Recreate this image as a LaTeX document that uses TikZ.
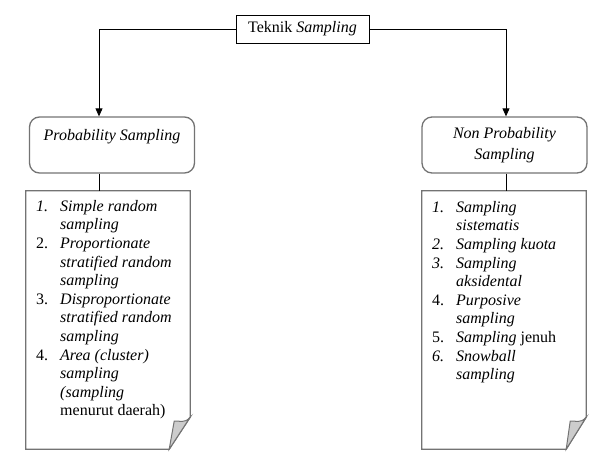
\documentclass[tikz,border=0pt]{standalone}
\usepackage{fontspec}
\setmainfont{Liberation Serif}
\usetikzlibrary{arrows.meta}

\begin{document}
\begin{tikzpicture}[x=1pt,y=-1pt,
   judul/.style={draw=black,line width=0.8pt,minimum width=133pt,minimum height=28pt,inner sep=0pt,font=\fontsize{16}{21}\selectfont},
   kotak/.style={draw=black!55,line width=1.3pt,rounded corners=10pt,minimum width=165pt,minimum height=56pt,inner sep=0pt,align=center,font=\fontsize{16}{21}\selectfont},
   kertas/.style={minimum width=164pt,minimum height=258pt,inner sep=0pt},
   isi/.style={anchor=north west,inner sep=0pt,font=\fontsize{16}{18.6}\selectfont},
   garis/.style={line width=0.8pt},
   panah/.style={garis,-{Triangle[width=7pt,length=8pt]}},
   tepi/.style={draw=black!55,line width=1.3pt,fill=white},
   lipat/.style={draw=black!55,line width=1pt,fill=black!20}]
   \useasboundingbox (0,0) rectangle (599,458);

   %% Kotak
   \node[judul] (teknik) at (302.5,29) {Teknik \textit{Sampling}};
   \node[kotak] (prob) at (112,145) {\textit{Probability Sampling}\\~};
   \node[kotak] (nonprob) at (504.5,145) {\textit{Non Probability}\\\textit{Sampling}};
   \node[kertas] (problist) at (108,320) {};
   \node[kertas] (nonlist) at (504,320) {};

   %% Kertas
   \draw[tepi] (problist.north west) -- (problist.north east) -- ([yshift=32pt]problist.south east)
      -- ([xshift=-21pt]problist.south east) -- (problist.south west) -- cycle;
   \draw[lipat] ([yshift=32pt]problist.south east) .. controls ([xshift=-6pt,yshift=25pt]problist.south east)
      and ([xshift=-11pt,yshift=29pt]problist.south east) .. ([xshift=-16pt,yshift=28pt]problist.south east)
      -- ([xshift=-21pt]problist.south east) -- cycle;
   \draw[tepi] (nonlist.north west) -- (nonlist.north east) -- ([yshift=32pt]nonlist.south east)
      -- ([xshift=-20pt]nonlist.south east) -- (nonlist.south west) -- cycle;
   \draw[lipat] ([yshift=32pt]nonlist.south east) .. controls ([xshift=-6pt,yshift=25pt]nonlist.south east)
      and ([xshift=-11pt,yshift=29pt]nonlist.south east) .. ([xshift=-16pt,yshift=28pt]nonlist.south east)
      -- ([xshift=-20pt]nonlist.south east) -- cycle;

   %% Isi
   \node[isi] (probisi) at (36,198) {\begin{tabular}{@{}p{24pt}@{}l@{}}
      \textit{1.} & \textit{Simple random}\\
         & \textit{sampling}\\
      2. & \textit{Proportionate}\\
         & \textit{stratified random}\\
         & \textit{sampling}\\
      3. & \textit{Disproportionate}\\
         & \textit{stratified random}\\
         & \textit{sampling}\\
      4. & \textit{Area (cluster)}\\
         & \textit{sampling}\\
         & \textit{(sampling}\\
         & menurut daerah)
   \end{tabular}};
   \node[isi] (nonisi) at (432,199) {\begin{tabular}{@{}p{24pt}@{}l@{}}
      \textit{1.} & \textit{Sampling}\\
         & \textit{sistematis}\\
      \textit{2.} & \textit{Sampling kuota}\\
      \textit{3.} & \textit{Sampling}\\
         & \textit{aksidental}\\
      4. & \textit{Purposive}\\
         & \textit{sampling}\\
      5. & \textit{Sampling} jenuh\\
      \textit{6.} & \textit{Snowball}\\
         & \textit{sampling}
   \end{tabular}};

   %% Garis
   \coordinate (kiri) at (99,0);
   \coordinate (kanan) at (506,0);
   \draw[panah] (teknik.west) -| (kiri |- prob.north);
   \draw[panah] (teknik.east) -| (kanan |- nonprob.north);
   \draw[garis] (kiri |- prob.south) -- (kiri |- problist.north);
   \draw[garis] (kanan |- nonprob.south) -- (kanan |- nonlist.north);
\end{tikzpicture}
\end{document}
